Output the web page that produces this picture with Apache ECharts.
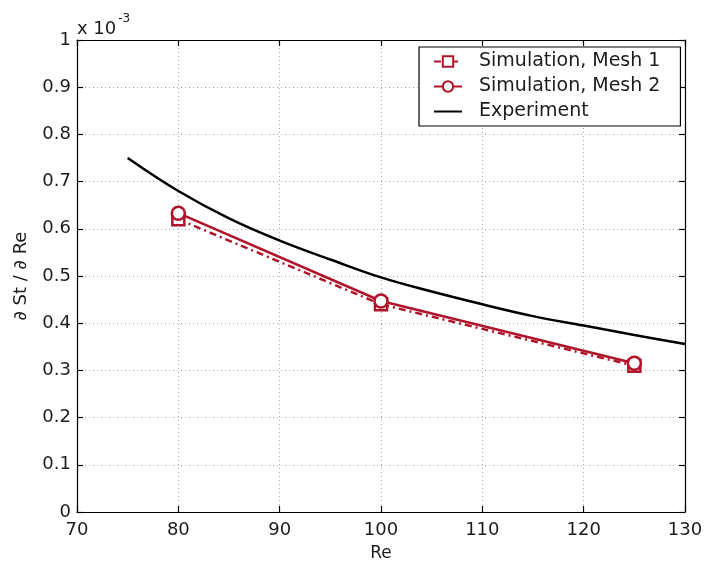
<!DOCTYPE html>
<html>
<head>
<meta charset="utf-8">
<script src="https://cdn.jsdelivr.net/npm/echarts@6/dist/echarts.min.js"></script>
<style>
  html, body { margin: 0; padding: 0; background: #fff; }
  #chart { width: 706px; height: 562px; }
</style>
</head>
<body>
<div id="chart"></div>
<script>
// Sensitivity of Strouhal number to Reynolds number (values in units of 1e-3)
const reSim = [80, 100, 125];
const mesh1 = [0.62, 0.44, 0.31];
const mesh2 = [0.633, 0.447, 0.315];

const reExp = [75, 80, 85, 90, 95, 100, 105, 110, 115, 120, 125, 130];
const experiment = [0.75, 0.68, 0.622, 0.575, 0.535, 0.497, 0.467, 0.44, 0.415, 0.395, 0.375, 0.356];

const xTicks = [70, 80, 90, 100, 110, 120, 130];
const yTickLabels = ['0', '0.1', '0.2', '0.3', '0.4', '0.5', '0.6', '0.7', '0.8', '0.9', '1'];

const seriesNames = ['Simulation, Mesh 1', 'Simulation, Mesh 2', 'Experiment'];

const pair = (xs, ys) => xs.map((x, i) => [x, ys[i]]);

const FONT = 'DejaVu Sans, Verdana, sans-serif';
const INK = '#1c1c1c';
const RED = '#b0142a';
const gridLine = { show: true, lineStyle: { color: '#a8a8a8', width: 1, type: [1, 3] } };
const frameLine = { show: true, onZero: false, lineStyle: { color: '#000', width: 1.2 } };
const tickIn = { show: true, inside: true, length: 6, lineStyle: { color: '#000', width: 1.2 } };

const chart = echarts.init(document.getElementById('chart'), null, { renderer: 'canvas' });

chart.setOption({
  backgroundColor: '#fff',
  animation: false,
  textStyle: { fontFamily: FONT },
  grid: { left: 77, right: 21, top: 40, bottom: 50, containLabel: false, outerBoundsMode: 'none' },
  xAxis: [
    {
      type: 'value', min: xTicks[0], max: xTicks[xTicks.length - 1], interval: 10,
      position: 'bottom',
      axisLine: frameLine, axisTick: tickIn, splitLine: gridLine,
      axisLabel: { fontSize: 18, color: INK, margin: 9, fontFamily: FONT },
      name: 'Re', nameLocation: 'middle', nameGap: 33,
      nameTextStyle: { fontSize: 17, color: INK, fontFamily: FONT }
    },
    {
      type: 'value', min: xTicks[0], max: xTicks[xTicks.length - 1], interval: 10,
      position: 'top',
      axisLine: frameLine, axisTick: tickIn, splitLine: { show: false },
      axisLabel: { show: false }
    }
  ],
  yAxis: [
    {
      type: 'value', min: 0, max: 1, interval: 0.1,
      position: 'left',
      axisLine: frameLine, axisTick: tickIn, splitLine: gridLine,
      axisLabel: {
        fontSize: 18, color: INK, margin: 6, fontFamily: FONT,
        formatter: (v) => yTickLabels[Math.round(v * 10)]
      },
      name: '\u2202 St / \u2202 Re', nameLocation: 'middle', nameGap: 47, nameRotate: 90,
      nameTextStyle: { fontSize: 18, color: INK, fontFamily: FONT }
    },
    {
      type: 'value', min: 0, max: 1, interval: 0.1,
      position: 'right',
      axisLine: frameLine, axisTick: tickIn, splitLine: { show: false },
      axisLabel: { show: false }
    }
  ],
  legend: {
    orient: 'vertical',
    left: 419, top: 47,
    data: [
      { name: seriesNames[0] },
      { name: seriesNames[1] },
      { name: seriesNames[2], itemStyle: { color: 'rgba(0,0,0,0)', borderColor: 'rgba(0,0,0,0)', borderWidth: 0, opacity: 0 } }
    ],
    backgroundColor: '#fff',
    borderColor: '#000', borderWidth: 1.2, borderRadius: 0,
    padding: [5, 20, 5, 14],
    itemWidth: 28, itemHeight: 13, itemGap: 6,
    formatter: (name) => '{t|' + name + '}',
    textStyle: {
      fontSize: 19, color: INK, fontFamily: FONT,
      rich: { t: { fontSize: 19, color: INK, fontFamily: FONT, padding: [0, 0, 0, 12] } }
    }
  },
  graphic: [
    {
      type: 'text', left: 77, top: 13,
      style: {
        text: '{b|x 10}{s|-3}',
        rich: {
          b: { fontSize: 18, fontFamily: FONT, fill: INK, padding: [12, 0, 0, 0] },
          s: { fontSize: 12, fontFamily: FONT, fill: INK, padding: [0, 0, 8, 2] }
        }
      }
    }
  ],
  series: [
    {
      name: seriesNames[0], type: 'line',
      data: pair(reSim, mesh1),
      symbol: 'rect', symbolSize: 12,
      lineStyle: { color: RED, width: 2.5, type: [7, 4, 2, 4] },
      itemStyle: { color: '#fff', borderColor: RED, borderWidth: 2.5 },
      z: 3
    },
    {
      name: seriesNames[1], type: 'line',
      data: pair(reSim, mesh2),
      symbol: 'circle', symbolSize: 13,
      lineStyle: { color: RED, width: 2.5 },
      itemStyle: { color: '#fff', borderColor: RED, borderWidth: 2.5 },
      z: 4
    },
    {
      name: seriesNames[2], type: 'line',
      data: pair(reExp, experiment),
      smooth: 0.4, symbol: 'none', showSymbol: false,
      lineStyle: { color: '#000', width: 2.5 },
      itemStyle: { color: '#000' },
      z: 2
    }
  ]
});
</script>
</body>
</html>
